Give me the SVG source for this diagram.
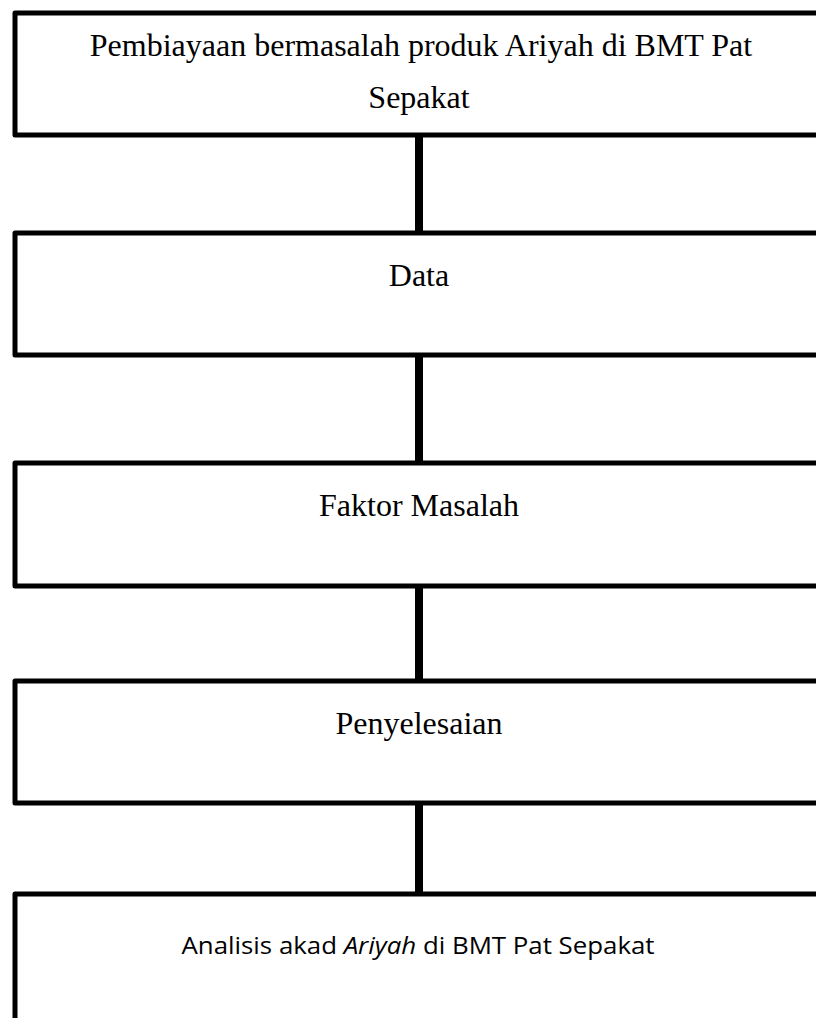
<svg xmlns="http://www.w3.org/2000/svg" width="816" height="1018" viewBox="0 0 816 1018">
<style>
.box{fill:#fff;stroke:#000;stroke-width:5;stroke-linejoin:round}
.t{font-family:"Liberation Serif","Times New Roman",serif;font-size:32px;fill:#000;text-anchor:middle}
.s{font-family:"Open Sans","Noto Sans",sans-serif;font-size:23px;fill:#000;text-anchor:middle}
.c{stroke:#000;stroke-width:8;fill:none}
</style>
<rect width="816" height="1018" fill="#fff"/>
<g id="connectors">
<line class="c" x1="419" y1="135" x2="419" y2="233"/>
<line class="c" x1="419" y1="355" x2="419" y2="463"/>
<line class="c" x1="419" y1="586" x2="419" y2="681"/>
<line class="c" x1="419" y1="803" x2="419" y2="894"/>
</g>
<g id="node1">
<rect class="box" x="15" y="13" width="850" height="122"/>
<text class="t" x="421" y="56">Pembiayaan bermasalah produk Ariyah di BMT Pat</text>
<text class="t" x="419" y="108">Sepakat</text>
</g>
<g id="node2">
<rect class="box" x="15" y="233" width="850" height="122"/>
<text class="t" x="419" y="286">Data</text>
</g>
<g id="node3">
<rect class="box" x="15" y="463" width="850" height="123"/>
<text class="t" x="419" y="516">Faktor Masalah</text>
</g>
<g id="node4">
<rect class="box" x="15" y="681" width="850" height="122"/>
<text class="t" x="419" y="734">Penyelesaian</text>
</g>
<g id="node5">
<rect class="box" x="15" y="894" width="850" height="200"/>
<text class="s" x="418" y="954" textLength="473" lengthAdjust="spacingAndGlyphs">Analisis akad <tspan font-style="italic">Ariyah</tspan> di BMT Pat Sepakat</text>
</g>
</svg>
